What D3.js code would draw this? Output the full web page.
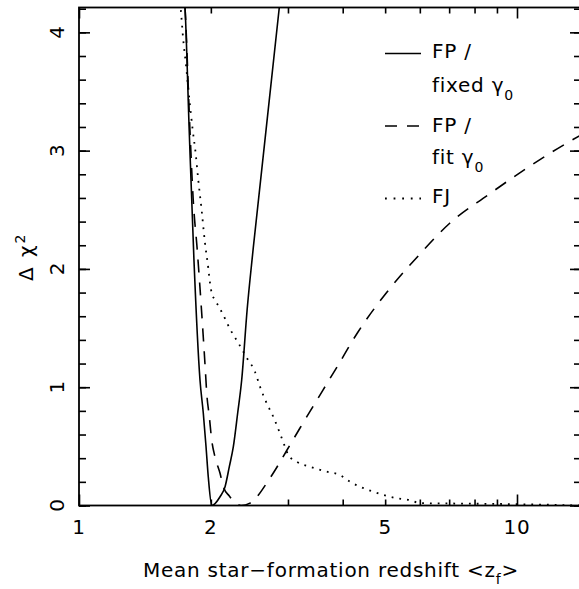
<!DOCTYPE html>
<html>
<head>
<meta charset="utf-8">
<script src="https://cdn.jsdelivr.net/npm/d3@7"></script>
<style>
  html, body { margin: 0; padding: 0; background: #fff; }
  svg { display: block; }
  text { font-family: "DejaVu Sans", sans-serif; fill: #000; }
</style>
</head>
<body>
<svg id="chart" width="579" height="589"></svg>
<script>
// Δχ² versus mean star-formation redshift <z_f>

// FP relation, fixed γ0
const zFixed    = [1.70, 1.746, 1.785, 1.830, 1.889, 1.922, 1.950, 1.973, 2.010, 2.099, 2.155, 2.204, 2.251, 2.303, 2.352, 2.420, 2.500, 2.866, 2.90];
const dchiFixed = [4.60, 4.21, 3.17, 2.075, 1.061, 0.782, 0.497, 0.243, 0.0, 0.074, 0.159, 0.328, 0.497, 0.782, 1.061, 1.653, 2.180, 4.21, 4.40];

// FP relation, fitted γ0
const zFit    = [1.70, 1.746, 1.792, 1.823, 1.862, 1.904, 1.943, 1.957, 1.984, 2.009, 2.044, 2.099, 2.136, 2.204, 2.27, 2.345, 2.457, 2.730, 2.985, 3.196, 3.606, 3.882, 4.335, 5.050, 6.004, 7.031, 8.587, 10.54, 13.01, 14.0];
const dchiFit = [4.60, 4.21, 3.17, 2.582, 2.160, 1.653, 1.145, 0.951, 0.751, 0.554, 0.412, 0.272, 0.159, 0.080, 0.025, 0.0, 0.020, 0.232, 0.469, 0.655, 0.976, 1.171, 1.467, 1.805, 2.126, 2.388, 2.625, 2.853, 3.065, 3.132];

// FJ relation
const zFJ    = [1.68, 1.707, 1.730, 1.755, 1.785, 1.818, 1.846, 1.872, 1.905, 1.939, 1.973, 1.991, 2.009, 2.044, 2.087, 2.135, 2.212, 2.311, 2.415, 2.522, 2.590, 2.683, 2.777, 2.876, 2.953, 3.006, 3.141, 3.368, 3.678, 3.944, 4.157, 4.381, 4.698, 4.951, 5.312, 5.697, 6.004, 7.03, 9.15, 11.29, 14.0];
const dchiFJ = [4.45, 4.20, 3.935, 3.724, 3.445, 3.174, 2.980, 2.752, 2.499, 2.220, 2.008, 1.882, 1.797, 1.737, 1.680, 1.610, 1.492, 1.374, 1.249, 1.131, 1.004, 0.864, 0.751, 0.610, 0.497, 0.427, 0.370, 0.328, 0.286, 0.258, 0.201, 0.159, 0.117, 0.089, 0.061, 0.046, 0.020, 0.017, 0.013, 0.008, 0.0];

// Axis labels and tick values
const xTickValues = [1, 2, 5, 10];
const xMinorTicks = [2, 3, 4, 5, 6, 7, 8, 9];
const xMajorTicks = [1, 10];
const yTickValues = [0, 1, 2, 3, 4];
const yMinorTicks = d3.range(0, 4.21, 0.2);
const xDomain = [1, 14];
const yDomain = [0, 4.21];

const svg = d3.select("#chart");
const m = { left: 79, right: 581, top: 7.5, bottom: 505.5 };
const fontSize = 20, subSize = 14, spacing = 0.75;

const x = d3.scaleLog().domain(xDomain).range([m.left, m.right]);
const y = d3.scaleLinear().domain(yDomain).range([m.bottom, m.top]);

svg.append("defs").append("clipPath").attr("id", "plot-clip")
  .append("rect").attr("x", m.left).attr("y", m.top).attr("width", m.right - m.left).attr("height", m.bottom - m.top);

const line = d3.line()
  .x(d => x(d[0]))
  .y(d => y(d[1]))
  .curve(d3.curveMonotoneX);

const curves = svg.append("g").attr("clip-path", "url(#plot-clip)");

curves.append("path")
  .datum(d3.zip(zFixed, dchiFixed))
  .attr("d", line).attr("fill", "none").attr("stroke", "#000").attr("stroke-width", 1.6);

curves.append("path")
  .datum(d3.zip(zFit, dchiFit))
  .attr("d", line).attr("fill", "none").attr("stroke", "#000").attr("stroke-width", 1.6)
  .attr("stroke-dasharray", "13,10");

curves.append("path")
  .datum(d3.zip(zFJ, dchiFJ))
  .attr("d", line).attr("fill", "none").attr("stroke", "#000").attr("stroke-width", 1.8)
  .attr("stroke-dasharray", "1.8,6");

// Frame
svg.append("rect")
  .attr("x", m.left).attr("y", m.top).attr("width", m.right - m.left).attr("height", m.bottom - m.top)
  .attr("fill", "none").attr("stroke", "#000").attr("stroke-width", 1.8);

// Axes: ticks pointing inward on all four sides
const axisStyle = g => {
  g.select(".domain").remove();
  g.selectAll(".tick line").attr("stroke", "#000").attr("stroke-width", 1.6);
  g.selectAll(".tick text").remove();
};

svg.append("g").attr("transform", `translate(0,${m.bottom})`)
  .call(d3.axisBottom(x).tickValues(xMinorTicks).tickSize(-6)).call(axisStyle);
svg.append("g").attr("transform", `translate(0,${m.bottom})`)
  .call(d3.axisBottom(x).tickValues(xMajorTicks).tickSize(-11)).call(axisStyle);
svg.append("g").attr("transform", `translate(0,${m.top})`)
  .call(d3.axisTop(x).tickValues(xMinorTicks).tickSize(-6)).call(axisStyle);
svg.append("g").attr("transform", `translate(0,${m.top})`)
  .call(d3.axisTop(x).tickValues(xMajorTicks).tickSize(-11)).call(axisStyle);

svg.append("g").attr("transform", `translate(${m.left},0)`)
  .call(d3.axisLeft(y).tickValues(yMinorTicks).tickSize(-7)).call(axisStyle);
svg.append("g").attr("transform", `translate(${m.left},0)`)
  .call(d3.axisLeft(y).tickValues(yTickValues).tickSize(-11)).call(axisStyle);
svg.append("g").attr("transform", `translate(${m.right},0)`)
  .call(d3.axisRight(y).tickValues(yMinorTicks).tickSize(-7)).call(axisStyle);
svg.append("g").attr("transform", `translate(${m.right},0)`)
  .call(d3.axisRight(y).tickValues(yTickValues).tickSize(-11)).call(axisStyle);

// Tick labels
svg.append("g").selectAll("text").data(xTickValues).join("text")
  .attr("x", d => x(d)).attr("y", 533.5)
  .attr("text-anchor", "middle").attr("font-size", fontSize).attr("letter-spacing", spacing)
  .text(d => d);

svg.append("g").selectAll("text").data(yTickValues).join("text")
  .attr("transform", d => `translate(64,${y(d)}) rotate(-90)`)
  .attr("text-anchor", "middle").attr("font-size", fontSize)
  .text(d => d);

// Axis titles
const xt = svg.append("text").attr("x", 143).attr("y", 577)
  .attr("font-size", fontSize).attr("letter-spacing", spacing);
xt.append("tspan").text("Mean star\u2212formation redshift <z");
xt.append("tspan").attr("dy", 7).attr("font-size", subSize).text("f");
xt.append("tspan").attr("dy", -7).text(">");

const yt = svg.append("text").attr("transform", "translate(33,281) rotate(-90)")
  .attr("font-size", fontSize).attr("letter-spacing", 2);
yt.append("tspan").text("\u0394 \u03c7");
yt.append("tspan").attr("dy", -8).attr("font-size", subSize).text("2");

// Legend
const legend = svg.append("g");
const legendRows = [
  { y: 53.5, dash: null, width: 1.6 },
  { y: 126, dash: "12,10", width: 1.6 },
  { y: 198.5, dash: "1.8,6.8", width: 1.8 }
];
legendRows.forEach(r => {
  legend.append("line").attr("x1", 385).attr("x2", 421).attr("y1", r.y).attr("y2", r.y)
    .attr("stroke", "#000").attr("stroke-width", r.width)
    .attr("stroke-dasharray", r.dash);
});
const legendText = (yPos, main, sub) => {
  const t = legend.append("text").attr("x", 432).attr("y", yPos)
    .attr("font-size", fontSize).attr("letter-spacing", spacing);
  t.append("tspan").text(main);
  if (sub) t.append("tspan").attr("dy", 8).attr("font-size", subSize).text(sub);
};
legendText(58, "FP /");
legendText(92, "fixed \u03b3", "0");
legendText(132, "FP /");
legendText(164, "fit \u03b3", "0");
legendText(203, "FJ");
</script>
</body>
</html>
